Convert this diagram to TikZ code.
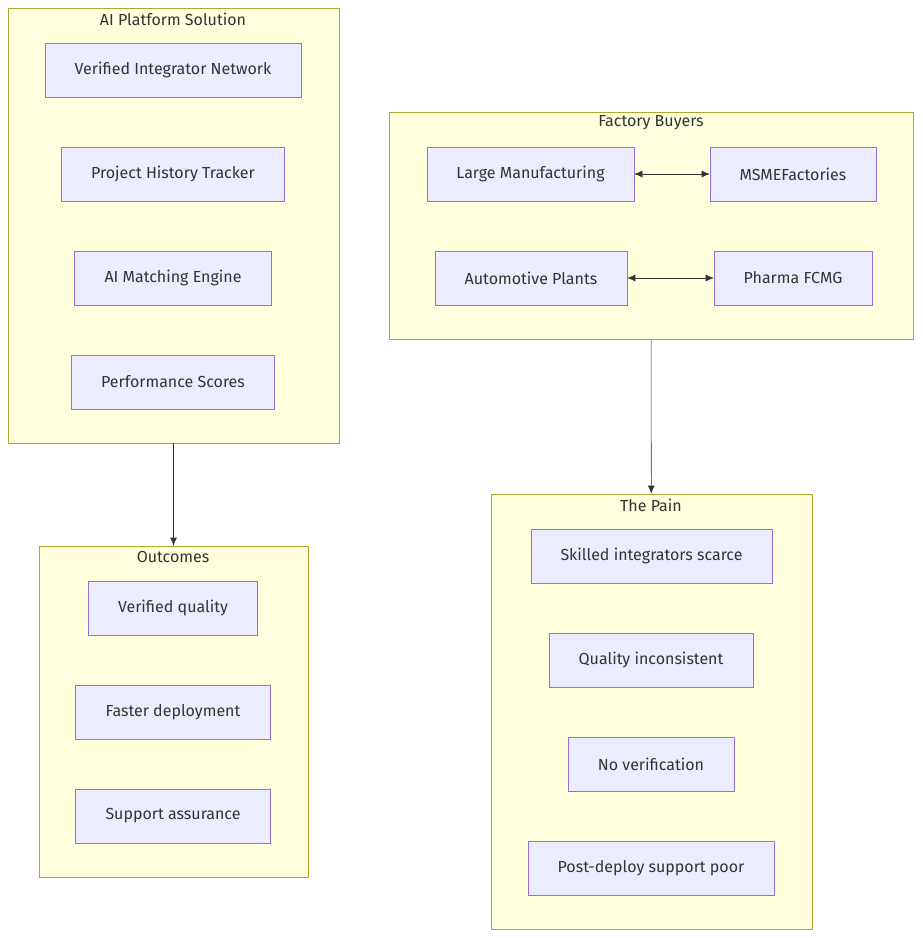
\documentclass[tikz,border=0pt]{standalone}
\usepackage{fontspec}
\setmainfont{Fira Sans}
\usetikzlibrary{arrows.meta, positioning}
\definecolor{clfill}{HTML}{FFFFDE}
\definecolor{cldraw}{HTML}{AAAA33}
\definecolor{ndfill}{HTML}{ECECFF}
\definecolor{nddraw}{HTML}{9370DB}
\definecolor{txt}{HTML}{333333}
\tikzset{
  cluster/.style={draw=cldraw, fill=clfill, inner sep=0pt},
  box/.style={draw=nddraw, fill=ndfill, inner sep=0pt, text=txt, font=\fontsize{12}{14}\selectfont},
  title/.style={text=txt, font=\fontsize{12}{14}\selectfont},
  link/.style={draw=txt, -{Latex[length=6pt,width=5pt]}},
  both/.style={draw=txt, {Latex[length=6pt,width=5pt]}-{Latex[length=6pt,width=5pt]}}
}
\begin{document}
\begin{tikzpicture}[x=0.75pt,y=-0.75pt]
\useasboundingbox (0,0) rectangle (922,938);

% clusters
\node[cluster, minimum width=331*0.75pt, minimum height=435*0.75pt] (aiplat) at (173.5,225.5) {};
\node[title] at (173,19) {AI Platform Solution};
\node[cluster, minimum width=269*0.75pt, minimum height=331*0.75pt] (outcomes) at (173.5,711.5) {};
\node[title] at (173,557) {Outcomes};
\node[cluster, minimum width=524*0.75pt, minimum height=227*0.75pt] (buyers) at (651,225.5) {};
\node[title] at (651,123) {Factory Buyers};
\node[cluster, minimum width=321*0.75pt, minimum height=435*0.75pt] (pain) at (651.5,711.5) {};
\node[title] at (651,505) {The Pain};

% platform
\node[box, minimum width=256*0.75pt, minimum height=54*0.75pt] (network) at (173,70) {Verified Integrator Network};
\node[box, minimum width=223*0.75pt, minimum height=54*0.75pt] (history) at (173,174) {Project History Tracker};
\node[box, minimum width=197*0.75pt, minimum height=54*0.75pt] (matching) at (173,278) {AI Matching Engine};
\node[box, minimum width=203*0.75pt, minimum height=54*0.75pt] (scores) at (173,382) {Performance Scores};

% outcomes
\node[box, minimum width=169*0.75pt, minimum height=54*0.75pt] (quality) at (173,608) {Verified quality};
\node[box, minimum width=195*0.75pt, minimum height=54*0.75pt] (faster) at (173,712) {Faster deployment};
\node[box, minimum width=195*0.75pt, minimum height=54*0.75pt] (support) at (173,816) {Support assurance};

% buyers
\node[box, minimum width=207*0.75pt, minimum height=54*0.75pt] (large) at (530.5,174) {Large Manufacturing};
\node[box, minimum width=166*0.75pt, minimum height=54*0.75pt] (msme) at (793,174) {MSMEFactories};
\node[box, minimum width=192*0.75pt, minimum height=54*0.75pt] (auto) at (531,278) {Automotive Plants};
\node[box, minimum width=158*0.75pt, minimum height=54*0.75pt] (pharma) at (793,278) {Pharma FCMG};

% pain
\node[box, minimum width=241*0.75pt, minimum height=54*0.75pt] (scarce) at (651.5,556) {Skilled integrators scarce};
\node[box, minimum width=204*0.75pt, minimum height=54*0.75pt] (inconsist) at (651,660) {Quality inconsistent};
\node[box, minimum width=166*0.75pt, minimum height=54*0.75pt] (noverif) at (651,764) {No verification};
\node[box, minimum width=246*0.75pt, minimum height=54*0.75pt] (postdeploy) at (651,868) {Post-deploy support poor};

% connectors
\draw[both] (large) -- (msme);
\draw[both] (auto) -- (pharma);
\draw[link] (aiplat) -- (outcomes);
\draw[link] (buyers) -- (pain);
\end{tikzpicture}
\end{document}
